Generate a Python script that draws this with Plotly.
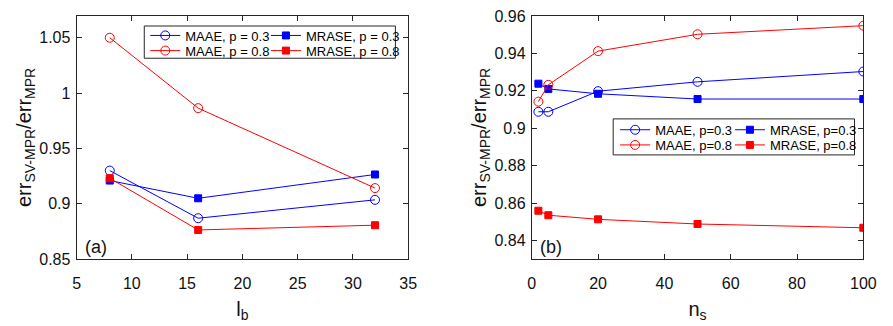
import plotly.graph_objects as go

W, H = 893, 326

# ---- data ----
lb = [8, 16, 32]
a_maae_03 = [0.930, 0.887, 0.9036]
a_mrase_03 = [0.921, 0.905, 0.9265]
a_maae_08 = [1.050, 0.9864, 0.9142]
a_mrase_08 = [0.9231, 0.8764, 0.8807]

ns = [2, 5, 20, 50, 100]
b_maae_03 = [0.9088, 0.9088, 0.9198, 0.9248, 0.9303]
b_mrase_03 = [0.9238, 0.9210, 0.9184, 0.9156, 0.9156]
b_maae_08 = [0.9142, 0.9232, 0.9412, 0.9502, 0.9548]
b_mrase_08 = [0.8559, 0.8535, 0.8513, 0.8488, 0.8468]

a_xticks = [5, 10, 15, 20, 25, 30, 35]
a_yticks = [0.85, 0.9, 0.95, 1.0, 1.05]
a_yticktext = ["0.85", "0.9", "0.95", "1", "1.05"]
b_xticks = [0, 20, 40, 60, 80, 100]
b_yticks = [0.84, 0.86, 0.88, 0.90, 0.92, 0.94, 0.96]
b_yticktext = ["0.84", "0.86", "0.88", "0.9", "0.92", "0.94", "0.96"]

names_a = ["MAAE, p = 0.3", "MRASE, p = 0.3", "MAAE, p = 0.8", "MRASE, p = 0.8"]
names_b = ["MAAE, p=0.3", "MRASE, p=0.3", "MAAE, p=0.8", "MRASE, p=0.8"]

BLUE = "#0000FF"
RED = "#FF0000"
AX = "#262626"
FONT = "Liberation Sans, Arial, Helvetica, sans-serif"

def px_x(p):
    return p / W

def px_y(p):
    return (H - p) / H

fig = go.Figure()

styles = [
    (BLUE, "circle-open", 9),
    (BLUE, "square", 7),
    (RED, "circle-open", 9),
    (RED, "square", 7),
]

series_a = [a_maae_03, a_mrase_03, a_maae_08, a_mrase_08]
series_b = [b_maae_03, b_mrase_03, b_maae_08, b_mrase_08]
legs_a = ["legend2", "legend3", "legend4", "legend5"]
legs_b = ["legend6", "legend7", "legend8", "legend9"]

for (c, sym, sz), ys, nm, lg in zip(styles, series_a, names_a, legs_a):
    fig.add_trace(go.Scatter(
        x=lb, y=ys, name=nm, mode="lines+markers", legend=lg,
        line=dict(color=c, width=1),
        marker=dict(symbol=sym, size=sz, color=c, line=dict(color=c, width=1)),
        xaxis="x", yaxis="y"))

for (c, sym, sz), ys, nm, lg in zip(styles, series_b, names_b, legs_b):
    fig.add_trace(go.Scatter(
        x=ns, y=ys, name=nm, mode="lines+markers", legend=lg,
        line=dict(color=c, width=1),
        marker=dict(symbol=sym, size=sz, color=c, line=dict(color=c, width=1)),
        xaxis="x2", yaxis="y2"))

axis_common = dict(
    showline=True, linecolor=AX, linewidth=1, mirror="ticks",
    ticks="inside", ticklen=5, tickwidth=1, tickcolor=AX,
    showgrid=False, zeroline=False, ticklabeloverflow="allow",
    tickfont=dict(family=FONT, size=16, color="#111111"),
)

title_font = dict(family=FONT, size=20, color="#111111")
ytitle = "err<sub>SV-MPR</sub>/err<sub>MPR</sub>"

fig.update_layout(
    width=W, height=H,
    margin=dict(l=0, r=0, t=0, b=0),
    paper_bgcolor="white", plot_bgcolor="white",
    font=dict(family=FONT, size=13, color="#000000"),
    xaxis=dict(axis_common, domain=[px_x(74), px_x(412)], range=[5, 35],
               tickvals=a_xticks, anchor="y", ticklabelstandoff=10,
               title=dict(text="l<sub>b</sub>", font=title_font, standoff=10)),
    yaxis=dict(axis_common, domain=[px_y(265), px_y(8)], range=[0.85, 1.07],
               tickvals=a_yticks, ticktext=a_yticktext, anchor="x",
               ticklabelstandoff=2,
               title=dict(text=ytitle, font=title_font, standoff=2)),
    xaxis2=dict(axis_common, domain=[px_x(538), px_x(876)], range=[0, 100],
                tickvals=b_xticks, anchor="y2", ticklabelstandoff=10,
                title=dict(text="n<sub>s</sub>", font=title_font, standoff=10)),
    yaxis2=dict(axis_common, domain=[px_y(265), px_y(8)], range=[0.83, 0.9602],
                tickvals=b_yticks, ticktext=b_yticktext, anchor="x2",
                ticklabelstandoff=2,
                title=dict(text=ytitle, font=title_font, standoff=2)),
)

leg_common = dict(orientation="v", bgcolor="rgba(0,0,0,0)", borderwidth=0,
                  font=dict(family=FONT, size=13, color="#000000"),
                  xanchor="left", yanchor="middle", tracegroupgap=0)

# one legend per cell: (x px, y px)
leg_pos = {
    "legend2": (144, 29), "legend3": (267, 29),
    "legend4": (144, 45), "legend5": (267, 45),
    "legend6": (623, 128.5), "legend7": (740, 128.5),
    "legend8": (623, 144.5), "legend9": (740, 144.5),
}
fig.update_layout({k: dict(leg_common, x=px_x(v[0]), y=px_y(v[1]))
                   for k, v in leg_pos.items()})

# legend boxes
fig.add_shape(type="rect", xref="paper", yref="paper",
              x0=px_x(143), x1=px_x(399), y0=px_y(53), y1=px_y(19),
              line=dict(color=AX, width=1), fillcolor="white", layer="above")
fig.add_shape(type="rect", xref="paper", yref="paper",
              x0=px_x(621), x1=px_x(867), y0=px_y(155), y1=px_y(117),
              line=dict(color=AX, width=1), fillcolor="white", layer="above")

# panel labels
fig.add_annotation(text="(a)", xref="x domain", yref="y domain", x=0.02, y=0.05,
                   xanchor="left", yanchor="middle", showarrow=False,
                   font=dict(family=FONT, size=18, color="#111111"))
fig.add_annotation(text="(b)", xref="x2 domain", yref="y2 domain", x=0.02, y=0.05,
                   xanchor="left", yanchor="middle", showarrow=False,
                   font=dict(family=FONT, size=18, color="#111111"))

fig.write_html("out.html")
